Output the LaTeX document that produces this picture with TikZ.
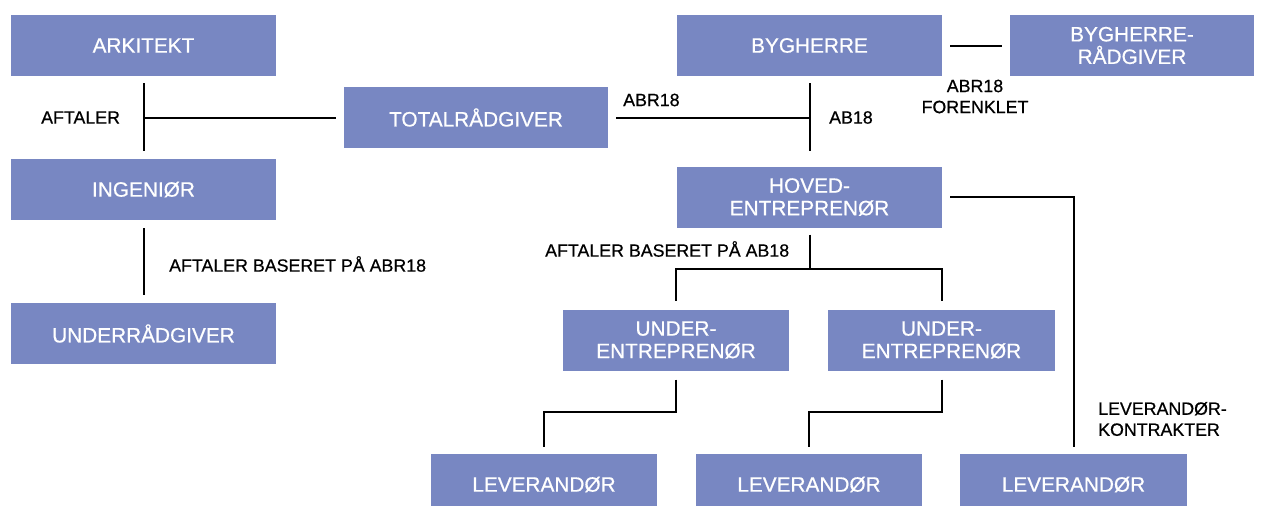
\documentclass[tikz,border=0pt]{standalone}
\usepackage{fontspec}
\setmainfont{Liberation Sans}
\newfontfamily\medfont[FakeBold=0.6]{Liberation Sans}
\definecolor{boxblue}{RGB}{120,135,194}

\begin{document}
\begin{tikzpicture}[x=1pt, y=-1pt,
    box/.style={rectangle, fill=boxblue, text=white, align=center, inner sep=0pt,
      minimum height=61pt, minimum width=265pt, font=\fontsize{20.8}{22.5}\medfont},
    lbl/.style={align=center, inner sep=0pt, font=\fontsize{17.8}{21}\medfont},
    link/.style={line width=2pt}]
  \clip (0,0) rectangle (1264,506);

  % consultant side
  \node[box] (ark) at (143.5,45.5) {ARKITEKT};
  \node[box] (ing) at (143.5,189.5) {INGENIØR};
  \node[box] (und) at (143.5,333.5) {UNDERRÅDGIVER};
  \node[box, minimum width=264pt] (tot) at (476,117.5) {TOTALRÅDGIVER};

  % client and contractors
  \node[box] (byg) at (809.5,45.5) {BYGHERRE};
  \node[box, minimum width=244pt] (bygr) at (1132,45.5) {BYGHERRE-\\RÅDGIVER};
  \node[box] (hov) at (809.5,197) {HOVED-\\ENTREPRENØR};
  \node[box, minimum width=226pt] (ue1) at (676,340) {UNDER-\\ENTREPRENØR};
  \node[box, minimum width=227pt] (ue2) at (941.5,340) {UNDER-\\ENTREPRENØR};
  \node[box, minimum width=226pt] (lev1) at (544,484.5) {LEVERANDØR};
  \node[box, minimum width=226pt] (lev2) at (809,484.5) {LEVERANDØR};
  \node[box, minimum width=227pt] (lev3) at (1073.5,484.5) {LEVERANDØR};

  \coordinate (split) at (809.5,269);
  \coordinate (k1) at (676,412);
  \coordinate (k2) at (941.5,412);

  % labels
  \node[lbl, anchor=west] (aft) at (41,117.5) {AFTALER};
  \node[lbl, anchor=west] (aftabr) at (169,264) {AFTALER BASERET PÅ ABR18};
  \node[lbl, anchor=west] (abr) at (623,100) {ABR18};
  \node[lbl, anchor=west] (ab) at (829,117.5) {AB18};
  \node[lbl] (forenk) at (975,96.5) {ABR18\\FORENKLET};
  \node[lbl, anchor=west] (aftab) at (545,249) {AFTALER BASERET PÅ AB18};
  \node[lbl, align=left, anchor=west] (levk) at (1098,419) {LEVERANDØR-\\KONTRAKTER};

  % connectors
  \draw[link, shorten <=7pt, shorten >=8pt] (ark) -- (ing);
  \draw[link, shorten <=8pt] (tot) -- (tot -| ark);
  \draw[link, shorten <=8pt, shorten >=8pt] (ing) -- (und);
  \draw[link, shorten <=8pt] (tot) -- (tot -| byg);
  \draw[link, shorten <=7pt, shorten >=15pt] (byg) -- (hov);
  \draw[link, shorten <=8pt, shorten >=8pt] (byg) -- (bygr);
  \draw[link, shorten <=8pt, shorten >=7pt] (hov) -| (lev3);
  \draw[link, shorten <=7pt] (hov) -- (split);
  \draw[link, shorten >=8pt] (split) -| (ue1);
  \draw[link, shorten >=8pt] (split) -| (ue2);
  \draw[link, shorten <=9pt, shorten >=7pt] (ue1) -- (k1) -| (lev1);
  \draw[link, shorten <=9pt, shorten >=7pt] (ue2) -- (k2) -| (lev2);
\end{tikzpicture}
\end{document}
